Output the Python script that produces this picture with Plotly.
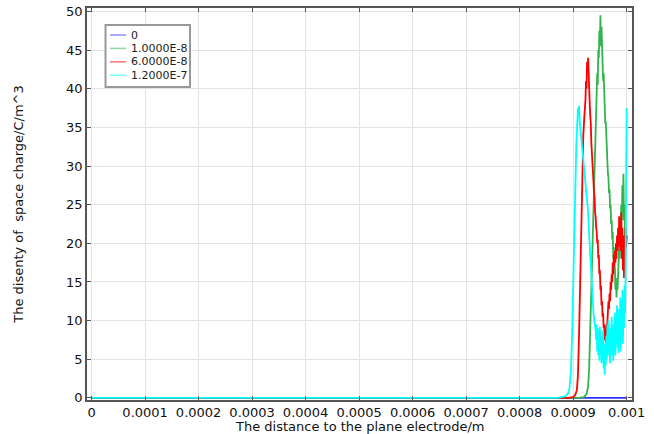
import plotly.graph_objects as go

# ---- data (x in metres, y in C/m^3) ----
names = ["0", "1.0000E-8", "6.0000E-8", "1.2000E-7"]
colors = ["#3333ff", "#33b34d", "#ff0000", "#00ffff"]

x_blue = [0, 0.001]
y_blue = [0, 0]

x_green = [0, 0.00091, 0.00092, 0.000925, 0.000928, 0.00093, 0.000932, 0.000934, 0.000936, 0.000938,
           0.00094, 0.000942, 0.000944, 0.000945, 0.000946, 0.000947, 0.000948, 0.000949, 0.00095, 0.000951,
           0.000952, 0.000953, 0.000954, 0.000955, 0.000956, 0.000957, 0.000958, 0.000959, 0.00096, 0.000961,
           0.000962, 0.000963, 0.000964, 0.000965, 0.000966, 0.000967, 0.000968, 0.000969, 0.00097, 0.000971,
           0.000972, 0.000973, 0.000974, 0.000975, 0.000976, 0.000977, 0.000978, 0.000979, 0.00098, 0.000981,
           0.000982, 0.000983, 0.000984, 0.000985, 0.000986, 0.000987, 0.000988, 0.000989, 0.00099, 0.000991,
           0.000992, 0.000993, 0.000994, 0.000995, 0.000996, 0.000997, 0.000998, 0.000999, 0.001]
y_green = [0, 0, 0.1, 0.5, 1.5, 4, 9, 14, 18, 22,
           28, 33, 38, 42, 40.5, 45, 44, 47.5, 46, 49.5,
           45.5, 48, 44, 45, 41, 42, 38, 39, 35.5, 35.8,
           33, 32, 30.5, 29, 28.5, 26.5, 27, 24.5, 25, 22.5,
           23, 20.5, 21.5, 18, 19.5, 16, 17, 14, 15.5, 13,
           15, 14, 17, 16, 19.5, 18, 22, 20.5, 25, 23,
           27.5, 24, 29, 23, 25, 19, 22, 20, 21]

x_red = [0, 0.00089, 0.0009, 0.000904, 0.000907, 0.000909, 0.000911, 0.000913, 0.000915, 0.000917,
         0.000919, 0.000921, 0.000923, 0.000924, 0.000925, 0.000926, 0.000927, 0.000928, 0.000929, 0.00093,
         0.000931, 0.000932, 0.000933, 0.000934, 0.000935, 0.000936, 0.000937, 0.000938, 0.000939, 0.00094,
         0.000941, 0.000942, 0.000943, 0.000944, 0.000945, 0.000946, 0.000947, 0.000948, 0.000949, 0.00095,
         0.000951, 0.000952, 0.000953, 0.000954, 0.000955, 0.000956, 0.000957, 0.000958, 0.000959, 0.00096,
         0.000961, 0.000962, 0.000963, 0.000964, 0.000965, 0.000966, 0.000967, 0.000968, 0.000969, 0.00097,
         0.000971, 0.000972, 0.000973, 0.000974, 0.000975, 0.000976, 0.000977, 0.000978, 0.000979, 0.00098,
         0.000981, 0.000982, 0.000983, 0.000984, 0.000985, 0.000986, 0.000987, 0.000988, 0.000989, 0.00099,
         0.000991, 0.000992, 0.000993, 0.000994, 0.000995, 0.000996, 0.000997, 0.000998, 0.000999, 0.001]
y_red = [0, 0, 0.1, 0.4, 1, 3, 8, 15, 23, 30,
         34, 36.5, 38.5, 41, 40, 43.5, 42.5, 44, 40.5, 41.5,
         38, 36.5, 35.5, 33, 32, 30.5, 29.5, 28, 26.5, 26,
         24, 23.5, 22, 21.5, 20, 20.5, 18, 18.5, 16, 16.5,
         14, 14.5, 12, 12.5, 10.5, 11, 9, 9.5, 7.5, 8.5,
         7.2, 9.5, 8.5, 11, 10, 12.5, 11.5, 13.5, 12.5, 15,
         14, 16, 15, 17.5, 16, 18.5, 17, 19, 17.5, 20,
         18, 21, 19, 22, 19.5, 23.5, 20, 22.5, 19, 24,
         18, 22, 16.5, 21, 15.5, 20.5, 17, 22, 19.5, 21]

x_cyan = [0, 0.00087, 0.000885, 0.00089, 0.000893, 0.000896, 0.000898, 0.0009, 0.000902, 0.000904,
          0.000906, 0.000908, 0.000909, 0.00091, 0.000911, 0.000912, 0.000914, 0.000916, 0.000918, 0.00092,
          0.000922, 0.000924, 0.000926, 0.000928, 0.00093, 0.000932, 0.000934, 0.000936, 0.000938, 0.00094,
          0.000942, 0.000943, 0.000944, 0.000945, 0.000946, 0.000947, 0.000948, 0.000949, 0.00095, 0.000951,
          0.000952, 0.000953, 0.000954, 0.000955, 0.000956, 0.000957, 0.000958, 0.000959, 0.00096, 0.000961,
          0.000962, 0.000963, 0.000964, 0.000965, 0.000966, 0.000967, 0.000968, 0.000969, 0.00097, 0.000971,
          0.000972, 0.000973, 0.000974, 0.000975, 0.000976, 0.000977, 0.000978, 0.000979, 0.00098, 0.000981,
          0.000982, 0.000983, 0.000984, 0.000985, 0.000986, 0.000987, 0.000988, 0.000989, 0.00099, 0.000991,
          0.000992, 0.000993, 0.000994, 0.000995, 0.000996, 0.000997, 0.000998, 0.000999, 0.001]
y_cyan = [0, 0, 0.2, 0.5, 1.2, 3.5, 8, 15, 22, 28,
          33, 36, 37.5, 36.5, 37.8, 36, 34.5, 33.5, 32.5, 31,
          29.5, 28, 26.5, 24, 21, 18, 15, 12.7, 11, 9.8,
          8.8, 7.5, 9.5, 6.0, 9.0, 5.5, 8.5, 4.8, 9.2, 6.0,
          8.0, 4.5, 7.5, 5.0, 8.8, 3.8, 6.5, 3.0, 7.0, 4.2,
          8.0, 5.0, 9.5, 5.5, 10.0, 6.0, 8.5, 4.5, 9.0, 6.5,
          10.5, 5.5, 9.5, 4.8, 8.0, 6.0, 11.0, 5.5, 10.0, 7.0,
          12.0, 6.5, 10.5, 5.8, 11.5, 7.5, 13.0, 6.0, 12.5, 8.0,
          14.0, 7.0, 12.0, 9.0, 14.5, 11.0, 16.0, 28.0, 37.5]

x_ticks = [0, 0.0001, 0.0002, 0.0003, 0.0004, 0.0005, 0.0006, 0.0007, 0.0008, 0.0009, 0.001]
x_ticklabels = ["0", "0.0001", "0.0002", "0.0003", "0.0004", "0.0005", "0.0006", "0.0007", "0.0008", "0.0009", "0.001"]
y_ticks = [0, 5, 10, 15, 20, 25, 30, 35, 40, 45, 50]

series = [(x_blue, y_blue), (x_green, y_green), (x_red, y_red), (x_cyan, y_cyan)]

W, H = 654, 434
ML, MR, MT, MB = 87, 22, 8, 34
PW, PH = W - ML - MR, H - MT - MB


def px(xp):
    return (xp - ML) / PW


def py(yp):
    return 1 - (yp - MT) / PH


fig = go.Figure()
for (xs, ys), nm, col in zip(series, names, colors):
    fig.add_trace(go.Scatter(x=xs, y=ys, mode="lines", name=nm,
                             line=dict(color=col, width=1.8), showlegend=False))

font_family = "DejaVu Sans, Verdana, sans-serif"

# legend drawn as a box with sample lines and text
shapes = [dict(type="rect", xref="paper", yref="paper",
               x0=px(105.5), x1=px(190), y0=py(87), y1=py(25),
               line=dict(color="#999999", width=2), fillcolor="white", layer="above")]
annotations = []
for i, (nm, col) in enumerate(zip(names, colors)):
    yc = 35 + i * 13.4
    shapes.append(dict(type="line", xref="paper", yref="paper",
                       x0=px(110), x1=px(126), y0=py(yc), y1=py(yc),
                       line=dict(color=col, width=1.5), opacity=0.55, layer="above"))
    annotations.append(dict(text=nm, xref="paper", yref="paper", x=px(128.5), y=py(yc),
                            xanchor="left", yanchor="middle", showarrow=False,
                            font=dict(size=11, color="#222", family=font_family)))

# x-axis title placed just below the tick labels
annotations.append(dict(text="The distance to the plane electrode/m", xref="paper", yref="paper",
                        x=px(360), y=py(426), xanchor="center", yanchor="middle", showarrow=False,
                        font=dict(size=13, color="#111", family=font_family)))

fig.update_layout(
    width=W, height=H,
    margin=dict(l=ML, r=MR, t=MT, b=MB),
    paper_bgcolor="white", plot_bgcolor="white",
    font=dict(family=font_family, size=13, color="#111"),
    showlegend=False,
    shapes=shapes, annotations=annotations,
)
fig.update_xaxes(
    range=[-0.0000086, 0.00101],
    tickvals=x_ticks, ticktext=x_ticklabels,
    ticks="inside", ticklen=4, tickcolor="#555",
    showline=True, linecolor="#555", linewidth=1.5, mirror="ticks",
    showgrid=True, gridcolor="#e3e3e3", gridwidth=1, zeroline=False,
    tickfont=dict(size=13), ticklabelstandoff=0, automargin=False,
)
fig.update_yaxes(
    range=[-0.27, 50.44],
    tickvals=y_ticks,
    ticks="inside", ticklen=4, tickcolor="#555",
    showline=True, linecolor="#555", linewidth=1.5, mirror="ticks",
    showgrid=True, gridcolor="#e3e3e3", gridwidth=1, zeroline=False,
    tickfont=dict(size=13), automargin=False,
    title=dict(text="The disenty of  space charge/C/m^3", standoff=40, font=dict(size=13)),
)

fig.write_html("out.html")
